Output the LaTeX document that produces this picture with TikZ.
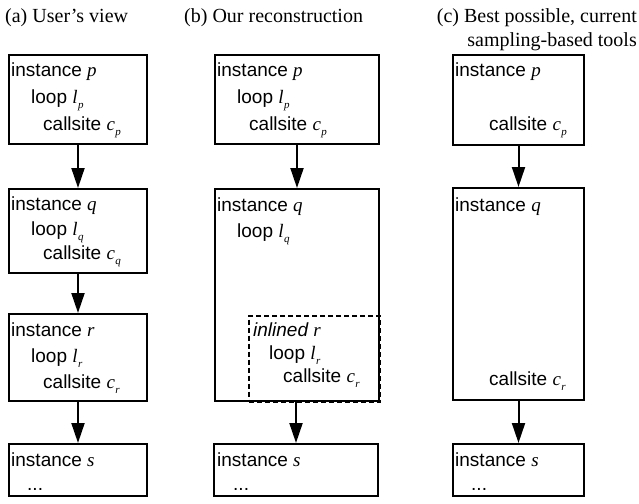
\documentclass[tikz,border=0pt]{standalone}
\usepackage{fontspec}
\setmainfont{Liberation Serif}
\setsansfont{Liberation Sans}
\usetikzlibrary{arrows.meta,
                positioning, % For easy node-relative placements
               }
\newcommand{\vname}[1]{{\rmfamily\itshape #1}}
\newcommand{\vsub}[2]{{\rmfamily\itshape #1\kern0.5pt\raisebox{-5pt}{\fontsize{11}{11}\selectfont #2}}}
\tikzstyle{frame} = [rectangle, draw=black, line width=2pt, inner sep=0pt]
\tikzstyle{inl} = [rectangle, draw=black, line width=2pt, dash pattern=on 5pt off 3pt, inner sep=0pt]
\tikzstyle{txt} = [anchor=base west, inner sep=0pt, font=\sffamily\fontsize{19}{19}\selectfont]
\tikzstyle{title} = [inner sep=0pt, font=\rmfamily\fontsize{20}{24}\selectfont]
\tikzstyle{flow} = [-{Triangle[length=20pt,width=13pt]}, line width=2pt]

\begin{document}
\begin{tikzpicture}[x=1pt, y=-1pt]
  \useasboundingbox (0, 0) rectangle (639, 503);

  \node (ta) [title, anchor=base west] at (5, 23) {(a) User's view};
  \node (tb) [title, anchor=base west] at (184, 23) {(b) Our reconstruction};
  \node (tc1) [title, anchor=base east] at (637, 23) {(c) Best possible, current};
  \node (tc2) [title, anchor=base east] at (637, 46) {sampling-based tools};

  % user's view
  \node (ap) [frame, minimum width=138pt, minimum height=89pt] at (78, 99.5) {};
  \node (aq) [frame, minimum width=138pt, minimum height=84pt] at (78, 231) {};
  \node (ar) [frame, minimum width=138pt, minimum height=87pt] at (78, 357.5) {};
  \node (as) [frame, minimum width=138pt, minimum height=52pt] at (78, 470) {};
  \node (ap1) [txt] at (11, 77) {instance \vname{p}};
  \node (ap2) [txt] at (31, 103) {loop \vsub{l}{p}};
  \node (ap3) [txt] at (43, 130) {callsite \vsub{c}{p}};
  \node (aq1) [txt] at (11, 210) {instance \vname{q}};
  \node (aq2) [txt] at (31, 235) {loop \vsub{l}{q}};
  \node (aq3) [txt] at (43, 259) {callsite \vsub{c}{q}};
  \node (ar1) [txt] at (11, 336) {instance \vname{r}};
  \node (ar2) [txt] at (31, 362) {loop \vsub{l}{r}};
  \node (ar3) [txt] at (43, 388) {callsite \vsub{c}{r}};
  \node (as1) [txt] at (11, 466) {instance \vname{s}};
  \node (as2) [txt] at (27, 490) {...};
  \draw [flow] (ap) -- (aq);
  \draw [flow] (aq) -- (ar);
  \draw [flow] (ar) -- (as);

  % our reconstruction
  \node (bp) [frame, minimum width=164pt, minimum height=89pt] at (297, 99.5) {};
  \node (bq) [frame, minimum width=164pt, minimum height=212pt] at (297, 295) {};
  \node (bi) [inl, minimum width=131pt, minimum height=86pt] at (314.5, 358.5) {};
  \node (bs) [frame, minimum width=164pt, minimum height=52pt] at (296, 470) {};
  \node (bp1) [txt] at (217, 77) {instance \vname{p}};
  \node (bp2) [txt] at (237, 103) {loop \vsub{l}{p}};
  \node (bp3) [txt] at (249, 130) {callsite \vsub{c}{p}};
  \node (bq1) [txt] at (217, 211) {instance \vname{q}};
  \node (bq2) [txt] at (237, 237) {loop \vsub{l}{q}};
  \node (bi1) [txt] at (253, 336) {\itshape inlined \vname{r}};
  \node (bi2) [txt] at (269, 359) {loop \vsub{l}{r}};
  \node (bi3) [txt] at (283, 382) {callsite \vsub{c}{r}};
  \node (bs1) [txt] at (217, 466) {instance \vname{s}};
  \node (bs2) [txt] at (233, 490) {...};
  \draw [flow] (bp) -- (bq);
  \draw [flow] (bq.south -| bs.north) -- (bs);

  % sampling-based tools
  \node (cp) [frame, minimum width=131pt, minimum height=90pt] at (518.5, 100) {};
  \node (cq) [frame, minimum width=131pt, minimum height=212pt] at (518.5, 294) {};
  \node (cs) [frame, minimum width=131pt, minimum height=52pt] at (518.5, 470) {};
  \node (cp1) [txt] at (455, 77) {instance \vname{p}};
  \node (cp3) [txt] at (489, 130) {callsite \vsub{c}{p}};
  \node (cq1) [txt] at (455, 211) {instance \vname{q}};
  \node (cq3) [txt] at (489, 385) {callsite \vsub{c}{r}};
  \node (cs1) [txt] at (455, 466) {instance \vname{s}};
  \node (cs2) [txt] at (471, 490) {...};
  \draw [flow] (cp) -- (cq);
  \draw [flow] (cq) -- (cs);
\end{tikzpicture}
\end{document}
